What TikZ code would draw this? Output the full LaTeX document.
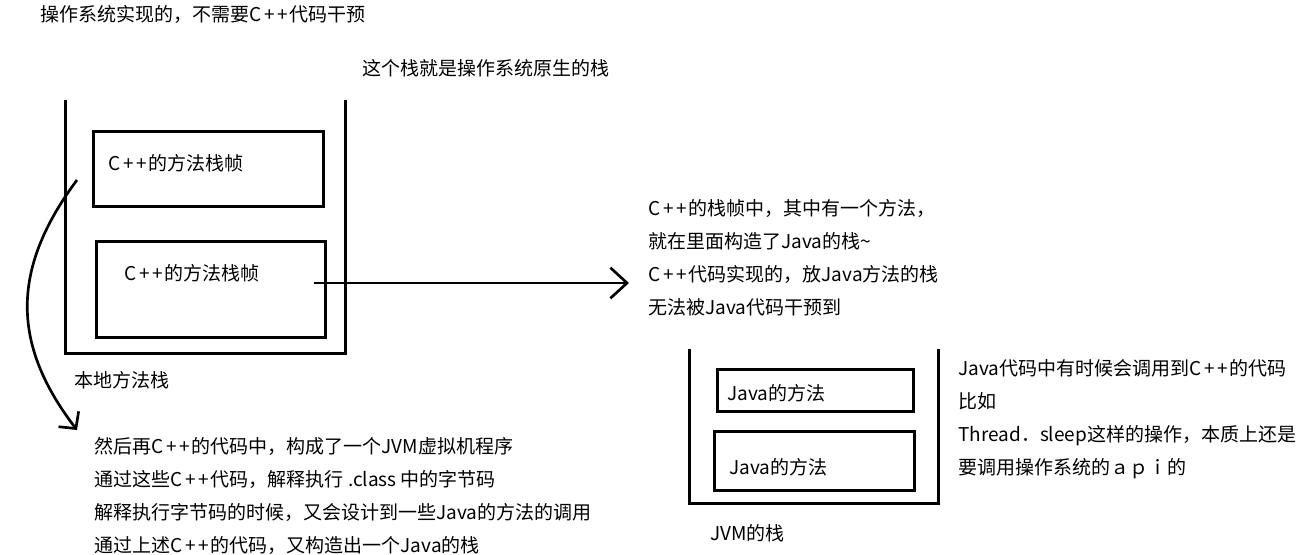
\documentclass[tikz,border=0pt]{standalone}
\usepackage{fontspec}
\setmainfont{Noto Sans CJK SC}
\usetikzlibrary{arrows.meta, positioning}
\newcommand{\cpp}{C\kern2pt+\kern2pt+\kern1.5pt}

\begin{document}
\begin{tikzpicture}[
    x=0.75pt, y=-0.75pt,
    txt/.style={inner sep=0pt, anchor=west, align=left, font=\fontsize{14.25}{24.75}\selectfont},
    framebox/.style={draw, line width=2.25pt, inner sep=0pt},
    wall/.style={line width=2.25pt},
    arrow/.style={line width=2pt, -{Straight Barb[length=12.5pt, width=23pt]}},
    curvearrow/.style={line width=2pt, -{Straight Barb[length=9pt, width=19pt]}}
]
    \useasboundingbox (0,0) rectangle (1301,554);

    % Stacks
    \draw[wall] (65,100) -- (65,353) -- (345,353) -- (345,100);
    \draw[wall] (689,349) -- (689,503) -- (938,503) -- (938,349);

    % Frames
    \node[framebox, minimum width=172.5pt, minimum height=56.25pt] (cppframeA) at (208,168.5) {};
    \node[framebox, minimum width=171.75pt, minimum height=72pt] (cppframeB) at (210.5,289) {};
    \node[framebox, minimum width=147pt, minimum height=31.5pt] (javaframeA) at (815,390) {};
    \node[framebox, minimum width=150pt, minimum height=44.25pt] (javaframeB) at (814.5,460.5) {};

    % Labels
    \node[txt] (osnote) at (40,14) {操作系统实现的，不需要\cpp 代码干预};
    \node[txt] (nativenote) at (362,68) {这个栈就是操作系统原生的栈};
    \node[txt] (cpptextA) at (108,163) {\cpp 的方法栈帧};
    \node[txt] (cpptextB) at (124,273) {\cpp 的方法栈帧};
    \node[txt] (nativename) at (74,380) {本地方法栈};
    \node[txt] (jvmnote) at (648,257.5) {\cpp 的栈帧中，其中有一个方法，\\就在里面构造了Java的栈\textasciitilde\\\cpp 代码实现的，放Java方法的栈\\无法被Java代码干预到};
    \node[txt] (javatextA) at (727,393) {Java的方法};
    \node[txt] (javatextB) at (729,467) {Java的方法};
    \node[txt] (jvmname) at (710,533) {JVM的栈};
    \node[txt] (callnote) at (958,419) {Java代码中有时候会调用到\cpp 的代码\\比如\\Thread．sleep这样的操作，本质上还是\\要调用操作系统的ａｐｉ的};
    \node[txt] (buildnote) at (94,495.5) {然后再\cpp 的代码中，构成了一个JVM虚拟机程序\\通过这些\cpp 代码，解释执行 .class 中的字节码\\解释执行字节码的时候，又会设计到一些Java的方法的调用\\通过上述\cpp 的代码，又构造出一个Java的栈};

    % Arrows
    \coordinate (jumpfrom) at (314,283);
    \coordinate (jumpto) at (629,283);
    \coordinate (curvefrom) at (77,180);
    \coordinate (curveto) at (77,430);
    \draw[arrow] (jumpfrom) -- (jumpto);
    \draw[curvearrow] (curvefrom) .. controls (10,270) and (12,345) .. (curveto);
\end{tikzpicture}
\end{document}
